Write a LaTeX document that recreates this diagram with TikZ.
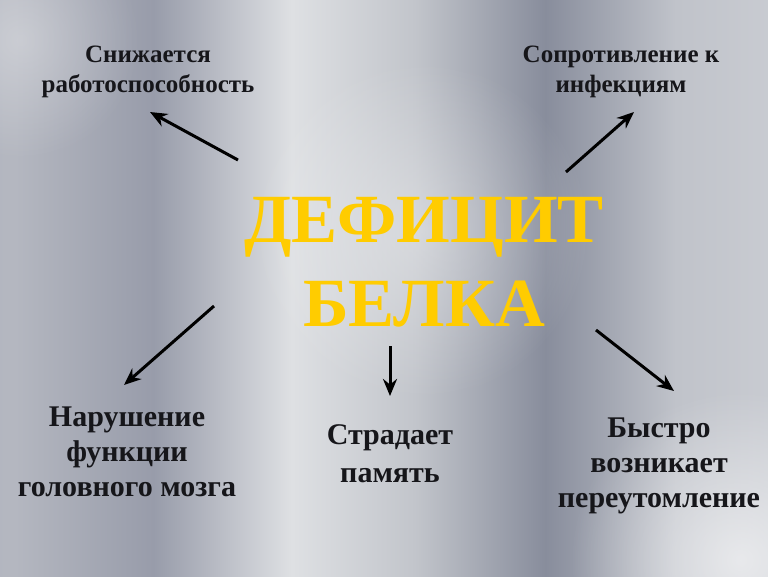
\documentclass[tikz,border=0pt]{standalone}
\usepackage{fontspec}
\setmainfont{Liberation Serif}
\usetikzlibrary{arrows.meta,fadings}
\definecolor{gold}{RGB}{255,204,0}
\definecolor{txt}{RGB}{22,22,26}
\definecolor{sa}{RGB}{206,208,214}
\definecolor{sb}{RGB}{172,176,187}
\definecolor{sc}{RGB}{180,183,192}
\definecolor{sd}{RGB}{152,156,170}
\definecolor{se}{RGB}{222,224,227}
\definecolor{sf}{RGB}{194,197,203}
\definecolor{sg}{RGB}{136,141,156}
\definecolor{sh}{RGB}{192,195,202}
\definecolor{si}{RGB}{214,216,221}
\definecolor{sj}{RGB}{226,227,231}
\pgfdeclarehorizontalshading{silver}{100bp}{%
  color(0bp)=(sa);
  color(13bp)=(sb);
  color(26bp)=(sc);
  color(35bp)=(sd);
  color(44bp)=(se);
  color(52bp)=(sf);
  color(60.5bp)=(sg);
  color(69bp)=(sh);
  color(85bp)=(si);
  color(100bp)=(sj)}
\tikzfading[name=glow, inner color=transparent!0, outer color=transparent!100]
\tikzset{
  x=1pt, y=-1pt,
  lbl/.style={font=\bfseries\fontsize{25}{30}\selectfont, text=txt, align=center, inner sep=0pt},
  blbl/.style={font=\bfseries\fontsize{30}{35}\selectfont, text=txt, align=center, inner sep=0pt},
  title/.style={font=\bfseries\fontsize{69}{84}\selectfont, text=gold, align=center, inner sep=0pt},
  arr/.style={draw=black, line width=3pt, -{Stealth[length=17pt,width=14pt]}}
}
\begin{document}
\begin{tikzpicture}
\useasboundingbox (0,0) rectangle (768,576);
\shade[shading=silver] (0,0) rectangle (768,576);
\fill[white, path fading=glow, fill opacity=0.6] (740,560) circle (170);
\fill[white, path fading=glow, fill opacity=0.35] (420,230) circle (170);
\fill[white, path fading=glow, fill opacity=0.3] (20,40) circle (120);

\node[title] (main) at (424,262) {ДЕФИЦИТ\\БЕЛКА};

\node[lbl] (t1) at (148,72) {Снижается\\работоспособность};
\node[lbl] (t2) at (621,72) {Сопротивление к\\инфекциям};
\node[blbl] (b1) at (127,452) {Нарушение\\функции\\головного мозга};
\node[blbl, font=\bfseries\fontsize{30}{38}\selectfont] (b2) at (390,454) {Страдает\\память};
\node[blbl] (b3) at (659,466) {Быстро\\возникает\\переутомление};

\coordinate (s1) at (238,160); \coordinate (e1) at (150,112);
\coordinate (s2) at (566,172); \coordinate (e2) at (634,112);
\coordinate (s3) at (214,306); \coordinate (e3) at (124,385);
\coordinate (s4) at (390,346); \coordinate (e4) at (390,396);
\coordinate (s5) at (596,330); \coordinate (e5) at (674,391);

\draw[arr] (s1) -- (e1);
\draw[arr] (s2) -- (e2);
\draw[arr] (s3) -- (e3);
\draw[arr] (s4) -- (e4);
\draw[arr] (s5) -- (e5);
\end{tikzpicture}
\end{document}
